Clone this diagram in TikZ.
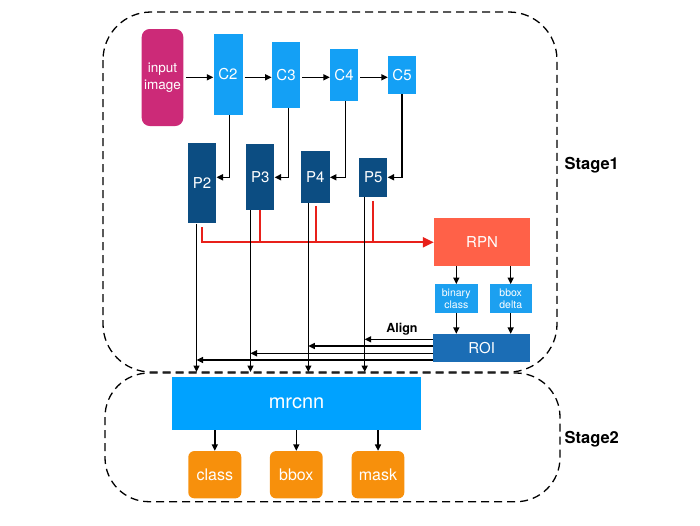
\documentclass[tikz,border=0pt]{standalone}
\usepackage{fontspec}
\setmainfont{TeX Gyre Heros}
\usetikzlibrary{arrows.meta,calc}
\definecolor{cMag}{HTML}{CC2A78}
\definecolor{cC}{HTML}{14A0F5}
\definecolor{cP}{HTML}{0C4D82}
\definecolor{cRPN}{HTML}{FF6148}
\definecolor{cSmall}{HTML}{1CA0F0}
\definecolor{cROI}{HTML}{1B6DB5}
\definecolor{cMr}{HTML}{00A2FF}
\definecolor{cOr}{HTML}{F7900C}
\definecolor{cRed}{HTML}{E8201A}
\tikzset{
  blk/.style={draw=none,inner sep=0pt,text=white,align=center},
  arr/.style={line width=1.4pt,-{Triangle[length=6.5pt,width=6pt]}},
  redl/.style={line width=2.2pt,cRed},
  stagebox/.style={dashed,line width=1.3pt,dash pattern=on 8pt off 5pt},
  fC/.style={font=\fontsize{15}{17}\selectfont},
}
\begin{document}
\begin{tikzpicture}[x=1pt,y=-1pt]
\useasboundingbox (0,0) rectangle (700,525);
% stage boxes
\draw[stagebox,rounded corners=48pt] (103,12) rectangle (557,372);
\draw[stagebox,rounded corners=44pt] (105,373) rectangle (560,501.7);
\node[anchor=west,font=\bfseries\fontsize{16.5}{18}\selectfont] (s1) at (561,165) {Stage1};
\node[anchor=west,font=\bfseries\fontsize{16.5}{18}\selectfont] (s2) at (561,439) {Stage2};
% input and C boxes
\node[blk,fill=cMag,rounded corners=8pt,minimum width=41.6pt,minimum height=97pt,font=\fontsize{13.5}{17}\selectfont] (inp) at (162.5,77.5) {input\\image};
\node[blk,fill=cC,minimum width=29pt,minimum height=81pt,fC] (C2) at (228,74.5) {C2};
\node[blk,fill=cC,minimum width=28.3pt,minimum height=65.7pt,fC] (C3) at (286,74.8) {C3};
\node[blk,fill=cC,minimum width=28pt,minimum height=52pt,fC] (C4) at (344,74.7) {C4};
\node[blk,fill=cC,minimum width=28pt,minimum height=38.3pt,fC] (C5) at (402,74.8) {C5};
\coordinate (ay) at (0,77.3);
\draw[arr,shorten <=2.5pt] (inp.east |- ay) -- (C2.west |- ay);
\draw[arr,shorten <=2pt] (C2.east |- ay) -- (C3.west |- ay);
\draw[arr,shorten <=2pt] (C3.east |- ay) -- (C4.west |- ay);
\draw[arr,shorten <=2pt] (C4.east |- ay) -- (C5.west |- ay);
% P boxes
\node[blk,fill=cP,minimum width=28.6pt,minimum height=80pt,fC] (P2) at (202,183.3) {P2};
\node[blk,fill=cP,minimum width=28.3pt,minimum height=66pt,fC] (P3) at (260.2,177) {P3};
\node[blk,fill=cP,minimum width=28.7pt,minimum height=52pt,fC] (P4) at (315.3,176.7) {P4};
\node[blk,fill=cP,minimum width=28.3pt,minimum height=38.7pt,fC] (P5) at (373.2,177.3) {P5};
\coordinate (py) at (0,177.3);
\draw[arr] ($(C2.south)+(1.3,0)$) |- (P2.east |- py);
\draw[arr] ($(C3.south)+(2.3,0)$) |- (P3.east |- py);
\draw[arr] ($(C4.south)+(1.7,0)$) |- (P4.east |- py);
\draw[arr] (C5.south) |- (P5.east |- py);
% RPN and ROI
\node[blk,fill=cRPN,minimum width=96pt,minimum height=47.4pt,fC] (RPN) at (482,242) {RPN};
\node[blk,fill=cSmall,minimum width=42.7pt,minimum height=28.4pt,font=\fontsize{10.5}{11.7}\selectfont] (bc) at (456.3,298.5) {binary\\class};
\node[blk,fill=cSmall,minimum width=42pt,minimum height=28.4pt,font=\fontsize{10.5}{11.7}\selectfont] (bd) at (510.7,298.5) {bbox\\delta};
\node[blk,fill=cROI,minimum width=96.7pt,minimum height=28.3pt,fC] (ROI) at (481.7,348.2) {ROI};
\draw[arr] (RPN.south -| bc.north) -- (bc.north);
\draw[arr] (RPN.south -| bd.north) -- (bd.north);
\draw[arr] (bc.south) -- (bc.south |- ROI.north);
\draw[arr] (bd.south) -- (bd.south |- ROI.north);
% red feature path to RPN
\coordinate (ry) at (0,242.3);
\draw[redl] ($(P2.south)+(0,3.5)$) -- (P2.south |- ry);
\draw[redl] (P3.south) -- (P3.south |- ry);
\draw[redl] ($(P4.south)+(0.7,3)$) -- ($(P4.south |- ry)+(0.7,0)$);
\draw[redl] ($(P5.south)+(0,4)$) -- (P5.south |- ry);
\draw[redl,-{Triangle[length=11pt,width=10pt]}] ($(P2.south |- ry)+(-1.1,0)$) -- (RPN.west |- ry);
% vertical lines to stage 2
\coordinate (d2) at (196.5,372);
\coordinate (d3) at (250.5,372);
\coordinate (d4) at (308.3,372);
\coordinate (d5) at (364.7,372);
\draw[arr] (P2.south -| d2) -- (d2);
\draw[arr] (P3.south -| d3) -- (d3);
\draw[arr] (P4.south -| d4) -- (d4);
\draw[arr] (P5.south -| d5) -- (d5);
% ROI align arrows
\draw[arr] (ROI.west |- 0,339.3) -- (d5 |- 0,339.3);
\draw[arr] (ROI.west |- 0,346) -- (d4 |- 0,346);
\draw[arr] (ROI.west |- 0,353.3) -- (d3 |- 0,353.3);
\draw[arr] (ROI.west |- 0,360) -- (d2 |- 0,360);
\node[font=\bfseries\fontsize{12.5}{14}\selectfont] (al) at (402,329.5) {Align};
% stage 2
\node[blk,fill=cMr,minimum width=248.4pt,minimum height=52.7pt,font=\fontsize{20}{22}\selectfont] (mr) at (296.5,403.7) {mrcnn};
\node[blk,fill=cOr,rounded corners=6pt,minimum width=53pt,minimum height=47.3pt,font=\fontsize{16}{18}\selectfont] (cls) at (214.8,474.7) {class};
\node[blk,fill=cOr,rounded corners=6pt,minimum width=52.7pt,minimum height=47.3pt,font=\fontsize{16}{18}\selectfont] (bb) at (296.3,474.7) {bbox};
\node[blk,fill=cOr,rounded corners=6pt,minimum width=52.6pt,minimum height=47.3pt,font=\fontsize{16}{18}\selectfont] (mk) at (378,474.7) {mask};
\draw[arr] (mr.south -| cls.north) -- (cls.north);
\draw[arr] (mr.south -| bb.north) -- (bb.north);
\draw[arr] (mr.south -| mk.north) -- (mk.north);
\end{tikzpicture}
\end{document}
